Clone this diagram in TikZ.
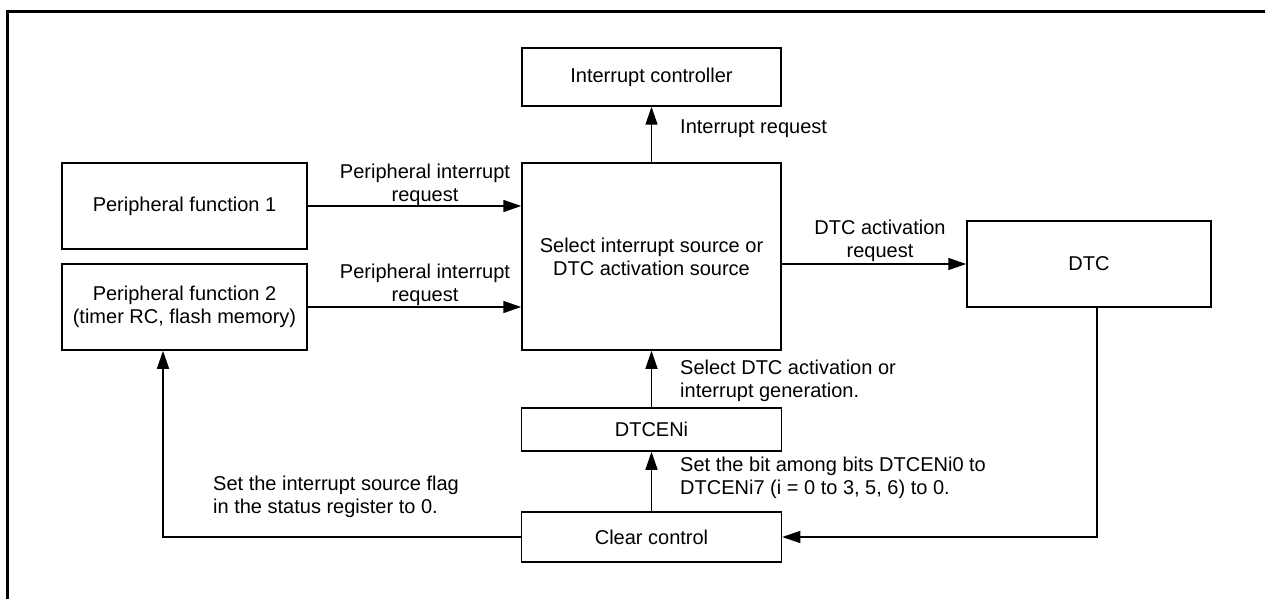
\documentclass[tikz,border=0pt]{standalone}
\usepackage{fontspec}
\setmainfont{Liberation Sans}
\usetikzlibrary{arrows.meta}
\begin{document}
\begin{tikzpicture}[x=1pt,y=-1pt,
  box/.style={draw, line width=1.5pt, inner sep=0pt, align=center, font=\fontsize{20}{23}\selectfont},
  lbl/.style={inner sep=0pt, font=\fontsize{20}{23}\selectfont},
  conn/.style={line width=1.5pt, -{Triangle[length=18pt,width=12pt]}},
  frame/.style={line width=3pt}]
\useasboundingbox (0,0) rectangle (1265,599);
% frame
\draw[frame] (7,599) -- (7,12) -- (1266,12);
% boxes
\node[box, minimum width=259pt, minimum height=58pt] (ic) at (651.5,77) {Interrupt controller};
\node[box, minimum width=259pt, minimum height=187pt] (sel) at (651.5,256.5) {Select interrupt source or\\DTC activation source};
\node[box, minimum width=245pt, minimum height=86pt] (pf1) at (184.5,206) {Peripheral function 1};
\node[box, minimum width=245pt, minimum height=86pt] (pf2) at (184.5,307) {Peripheral function 2\\(timer RC, flash memory)};
\node[box, minimum width=244pt, minimum height=86pt] (dtc) at (1089,264) {DTC};
\node[box, minimum width=260pt, minimum height=43pt] (en) at (651.5,429.5) {DTCENi};
\node[box, minimum width=260pt, minimum height=50pt] (cc) at (651.5,537) {Clear control};
% connectors
\draw[conn] (sel.north) -- (ic.south);
\draw[conn] (pf1.east) -- (pf1.east -| sel.west);
\draw[conn] (pf2.east) -- (pf2.east -| sel.west);
\draw[conn] (sel.east |- dtc.west) -- (dtc.west);
\draw[conn] (en.north) -- (sel.south);
\draw[conn] (cc.north) -- (en.south);
\draw[conn] ([xshift=8pt]dtc.south) |- (cc.east);
\draw[conn] (cc.west) -| ([xshift=-21.5pt]pf2.south);
% labels
\node[lbl, anchor=west] (l1) at (680,129) {Interrupt request};
\node[lbl, align=center] (l2) at (425,185) {Peripheral interrupt\\request};
\node[lbl, align=center] (l3) at (425,285) {Peripheral interrupt\\request};
\node[lbl, align=center] (l4) at (880,241) {DTC activation\\request};
\node[lbl, anchor=west, align=left] (l5) at (680,381) {Select DTC activation or\\interrupt generation.};
\node[lbl, anchor=west, align=left] (l6) at (680,478) {Set the bit among bits DTCENi0 to\\DTCENi7 (i = 0 to 3, 5, 6) to 0.};
\node[lbl, anchor=west, align=left] (l7) at (213,497) {Set the interrupt source flag\\in the status register to 0.};
\end{tikzpicture}
\end{document}
